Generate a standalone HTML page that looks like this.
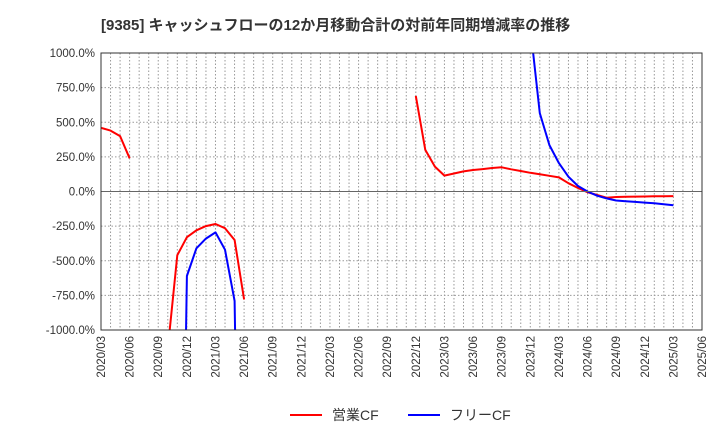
<!DOCTYPE html>
<html><head><meta charset="utf-8"><style>
html,body{margin:0;padding:0;background:#fff;overflow:hidden;width:720px;height:440px;font-family:"Liberation Sans","Noto Sans CJK JP",sans-serif}
svg{display:block}
svg text{font-family:"Liberation Sans","Noto Sans CJK JP",sans-serif}
</style></head><body>
<svg id="c" width="720" height="440" xmlns="http://www.w3.org/2000/svg">
<text x="101" y="30" font-size="15" font-weight="bold" fill="#333">[9385]  キャッシュフローの12か月移動合計の対前年同期増減率の推移</text>
<defs><clipPath id="clip"><rect x="101" y="53" width="601" height="277"/></clipPath></defs>
<g id="grid"></g><g id="series" clip-path="url(#clip)"></g><g id="axes"></g>
<g>
<line x1="290" y1="415" x2="322" y2="415" stroke="#f00" stroke-width="2"/>
<text x="332" y="420" font-size="14" fill="#333">営業CF</text>
<line x1="408" y1="415" x2="440" y2="415" stroke="#00f" stroke-width="2"/>
<text x="450" y="420" font-size="14" fill="#333">フリーCF</text>
</g>
</svg>
<script>
const yTicks=[1000,750,500,250,0,-250,-500,-750,-1000];
const xLabels=["2020/03","2020/06","2020/09","2020/12","2021/03","2021/06","2021/09","2021/12","2022/03","2022/06","2022/09","2022/12","2023/03","2023/06","2023/09","2023/12","2024/03","2024/06","2024/09","2024/12","2025/03","2025/06"];
const redIdx=[0,1,2,3,null,7,8,9,10,11,12,13,14,15,null,33,34,35,36,37,38,39,40,41,42,43,44,45,46,47,48,49,50,51,52,53,54,55,56,57,58,59,60];
const redVal=[460,440,400,240,null,-1135,-460,-330,-280,-250,-235,-265,-350,-780,null,690,300,180,115,130,145,155,162,170,175,160,148,135,125,113,102,60,25,-5,-25,-45,-40,-38,-37,-36,-35,-34,-33];
const blueIdx=[8,9,10,11,12,13,14,15,null,45,46,47,48,49,50,51,52,53,54,55,56,57,58,59,60];
const blueVal=[-5000,-610,-410,-340,-295,-420,-790,-5000,null,1186,565,335,205,107,40,0,-30,-50,-65,-70,-75,-80,-85,-92,-100];
const L=101,R=702,T=53,B=330;
const X=i=>L+i*(R-L)/63, Y=v=>T+(1000-v)*(B-T)/2000;
const ns="http://www.w3.org/2000/svg";
function mk(t,a,p){const e=document.createElementNS(ns,t);for(const k in a)e.setAttribute(k,a[k]);p.appendChild(e);return e;}
const g=document.getElementById('grid'),ax=document.getElementById('axes'),s=document.getElementById('series');
for(let m=1;m<63;m++){const l=mk('line',{x1:X(m),x2:X(m),y1:T,y2:B,stroke:'#999','stroke-dasharray':'1.5,2','stroke-width':1},g);

}
yTicks.forEach(v=>{if(v!==0&&Math.abs(v)!==1000){const l=mk('line',{x1:L,x2:R,y1:Y(v),y2:Y(v),stroke:'#999','stroke-dasharray':'1.5,2'},g);

}
const t=mk('text',{x:L-6,y:Y(v)+4,'text-anchor':'end','font-size':11.5,fill:'#333'},ax);t.textContent=v.toFixed(1)+'%';

});
const z=mk('line',{x1:L,x2:R,y1:Y(0),y2:Y(0),stroke:'#666'},ax);


const fr=mk('rect',{x:L,y:T,width:R-L,height:B-T,fill:'none',stroke:'#333'},ax);


xLabels.forEach((lb,k)=>{const x=X(k*3),y=B+6;const t=mk('text',{x:x+4,y:y,'text-anchor':'end','font-size':11.5,fill:'#333',transform:`rotate(-90 ${x+4} ${y})`},ax);t.textContent=lb;

});
function draw(idx,val,col,name){let d='',pen=false;idx.forEach((i,k)=>{if(i===null||val[k]===null){pen=false;return;}d+=(pen?'L':'M')+X(i).toFixed(1)+','+Y(val[k]).toFixed(1);pen=true;});
const p=mk('path',{d:d,fill:'none',stroke:col,'stroke-width':2,'stroke-linejoin':'round'},s);

}
draw(redIdx,redVal,'#f00','operating-cf-line');
draw(blueIdx,blueVal,'#00f','free-cf-line');
</script>
</body></html>
